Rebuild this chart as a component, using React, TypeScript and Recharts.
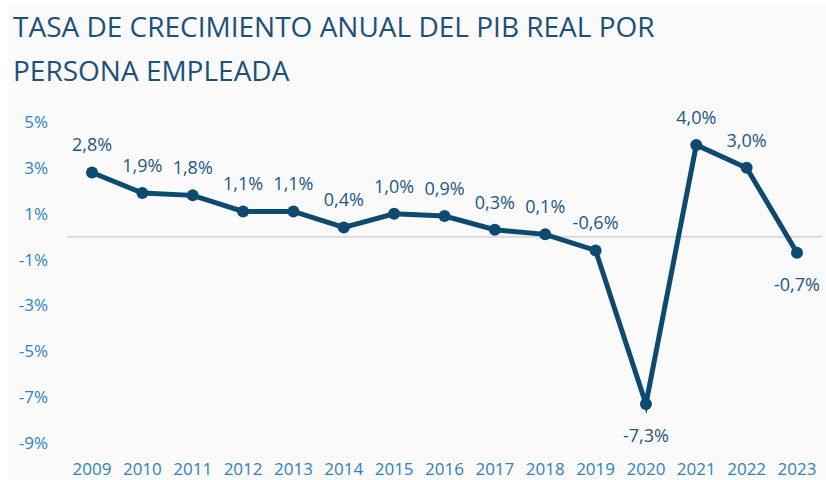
import {
  LineChart,
  Line,
  XAxis,
  YAxis,
  ReferenceLine,
  LabelList,
} from "recharts";

const years = [
  "2009", "2010", "2011", "2012", "2013", "2014", "2015", "2016",
  "2017", "2018", "2019", "2020", "2021", "2022", "2023",
];
const growth = [2.8, 1.9, 1.8, 1.1, 1.1, 0.4, 1.0, 0.9, 0.3, 0.1, -0.6, -7.3, 4.0, 3.0, -0.7];
// labels drawn below the point instead of above
const labelsBelow = ["2020", "2023"];
const yTicks = [-9, -7, -5, -3, -1, 1, 3, 5];

const data = years.map((year, i) => ({ year, value: growth[i] }));

const fmt = (v: number) => `${v.toFixed(1).replace(".", ",")}%`;

const FONT = "'Open Sans', sans-serif";

const PointLabel = (props: any) => {
  const { x, y, value, index } = props;
  const below = labelsBelow.includes(years[index]);
  return (
    <text
      x={x}
      y={below ? y + 31 : y - 28}
      textAnchor="middle"
      dominantBaseline="central"
      fill="#1e5782"
      fontSize={18}
      fontFamily={FONT}
    >
      {fmt(value)}
    </text>
  );
};

export default function App() {
  return (
    <div
      style={{
        position: "fixed",
        left: 0,
        top: 0,
        width: 826,
        height: 480,
        background: "#ffffff",
      }}
    >
      <div
        style={{
          position: "absolute",
          left: 9,
          top: 5,
          right: 0,
          bottom: 0,
          background: "#fafafa",
        }}
      />
      <div
        style={{
          position: "absolute",
          left: 13,
          top: 4,
          fontFamily: FONT,
          fontSize: 28,
          lineHeight: "44px",
          color: "#1c5179",
          whiteSpace: "nowrap",
        }}
      >
        <div>TASA DE CRECIMIENTO ANUAL DEL PIB REAL POR</div>
        <div>PERSONA EMPLEADA</div>
      </div>
      <div style={{ position: "absolute", left: 0, top: 0 }}>
        <LineChart
          width={826}
          height={480}
          data={data}
          margin={{ top: 122, right: 4, bottom: 0, left: 0 }}
        >
          <XAxis
            dataKey="year"
            axisLine={false}
            tickLine={false}
            height={37}
            tickMargin={14}
            interval={0}
            padding={{ left: 25, right: 25 }}
            tick={{ fill: "#2e82c0", fontSize: 17, fontFamily: FONT }}
          />
          <YAxis
            domain={[-9, 5]}
            ticks={yTicks}
            width={67}
            axisLine={false}
            tickLine={false}
            tickMargin={13}
            tickFormatter={(v: number) => `${v}%`}
            tick={{ fill: "#2e82c0", fontSize: 17, fontFamily: FONT }}
          />
          <ReferenceLine y={0} stroke="#d9d9d9" strokeWidth={2} />
          <Line
            type="linear"
            dataKey="value"
            stroke="#0e4a70"
            strokeWidth={5}
            dot={{ r: 6, fill: "#0e4a70", stroke: "#0e4a70", strokeWidth: 0 }}
            isAnimationActive={false}
          >
            <LabelList dataKey="value" content={<PointLabel />} />
          </Line>
        </LineChart>
      </div>
    </div>
  );
}
